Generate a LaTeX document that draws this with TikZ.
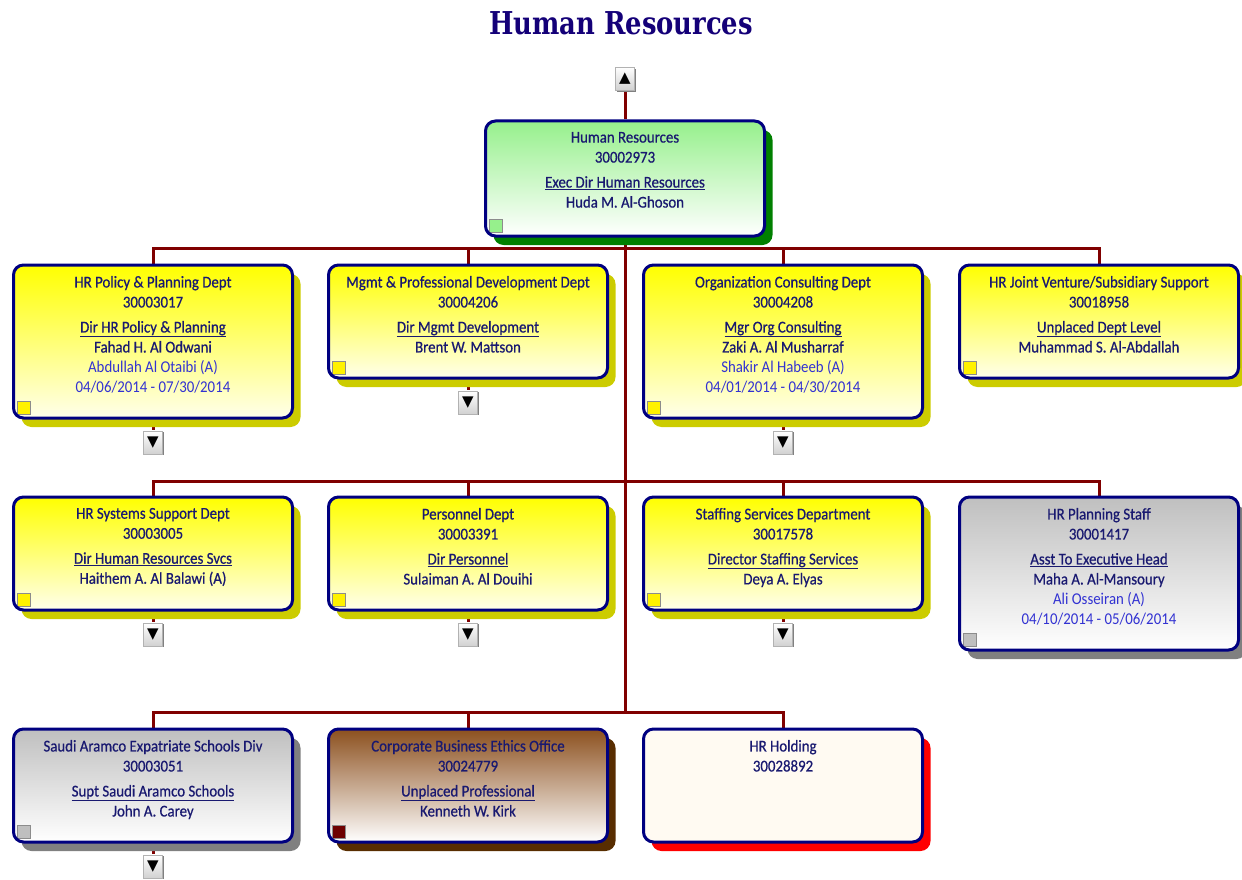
\documentclass[tikz,border=0pt]{standalone}
\usepackage{fontspec}
\setmainfont{Carlito}[FakeStretch=0.9, FakeBold=0.6]
\newfontfamily\actfont{Carlito}[FakeStretch=0.9]
\newfontfamily\titlefont{DejaVu Serif}[FakeStretch=0.82]
\newfontfamily\symfont{DejaVu Sans}
\usepackage{xcolor}
\usetikzlibrary{positioning,shadows,backgrounds}

\definecolor{navytext}{RGB}{25,25,112}
\definecolor{titleblue}{RGB}{20,0,120}
\definecolor{actblue}{RGB}{50,50,210}
\definecolor{boxblue}{RGB}{0,0,128}
\definecolor{linkred}{RGB}{128,0,0}
\definecolor{shyellow}{RGB}{204,204,0}
\definecolor{shgreen}{RGB}{0,128,0}
\definecolor{shgray}{RGB}{128,128,128}
\definecolor{shbrown}{RGB}{88,45,0}
\definecolor{lgreen}{RGB}{150,240,140}
\definecolor{brownfill}{RGB}{140,80,30}
\definecolor{sqbrown}{RGB}{110,0,0}
\definecolor{holdfill}{RGB}{255,250,242}

\tikzset{
  unit/.style={rectangle, rounded corners=10pt, draw=boxblue, line width=3pt,
    inner xsep=4.5pt, inner ysep=11pt, text=navytext, anchor=north,
    font=\fontsize{16.5}{20}\selectfont,
    execute at begin node={\begin{minipage}[t][#1][t]{270pt}\centering\rule{0pt}{10pt}},
    execute at end node={\end{minipage}}},
  unit/.default=91pt,
  corner/.style={path picture={\fill[#1, draw=black!45, line width=0.8pt, sharp corners]
    ([xshift=3.5pt,yshift=3.5pt]path picture bounding box.south west)
    rectangle ++(13pt,13pt);}},
  yellowunit/.style={top color=yellow, bottom color=yellow!8,
    drop shadow={shadow xshift=8pt, shadow yshift=-9pt, fill=shyellow, opacity=1},
    corner=yellow},
  greenunit/.style={top color=lgreen, bottom color=white,
    drop shadow={shadow xshift=8pt, shadow yshift=-9pt, fill=shgreen, opacity=1},
    corner=lgreen},
  grayunit/.style={top color=black!25, bottom color=white,
    drop shadow={shadow xshift=8pt, shadow yshift=-9pt, fill=shgray, opacity=1},
    corner=black!25},
  brownunit/.style={top color=brownfill, bottom color=white,
    drop shadow={shadow xshift=8pt, shadow yshift=-9pt, fill=shbrown, opacity=1},
    corner=sqbrown},
  holdunit/.style={fill=holdfill,
    drop shadow={shadow xshift=8pt, shadow yshift=-9pt, fill=red, opacity=1}},
  btn/.style={rectangle, inner sep=0pt, minimum width=19pt, minimum height=23pt,
    top color=white, bottom color=black!18, draw=black!30, line width=0.6pt,
    font=\symfont\fontsize{15}{15}\selectfont,
    drop shadow={shadow xshift=1.5pt, shadow yshift=-1.5pt, fill=black!50, opacity=1}},
  link/.style={draw=linkred, line width=3pt},
  elbow/.style={to path={|- ([yshift=#1]\tikztotarget.north) -| (\tikztotarget.north)}},
  elbow/.default=15.5pt
}

\begin{document}
\begin{tikzpicture}[x=1pt,y=-1pt]
\useasboundingbox (0,0) rectangle (1242,880);

\node[font=\titlefont\bfseries\fontsize{31.5}{32}\selectfont, text=titleblue] (title)
  at (621,23) {Human Resources};

% top unit
\node[unit=93pt, greenunit] (hr) at (625,119.5)
  {Human Resources\\30002973\\[5pt]\underline{Exec Dir Human Resources}\\Huda M. Al-Ghoson};
\node[btn, above=29pt of hr] (up) {▲};

% first row
\node[unit=131pt, yellowunit] (hrpol) at (153,263.5)
  {HR Policy \& Planning Dept\\30003017\\[5pt]\underline{Dir HR Policy \& Planning}\\Fahad H. Al Odwani\\
   {\actfont\color{actblue}Abdullah Al Otaibi (A)}\\{\actfont\color{actblue}04/06/2014 - 07/30/2014}};
\node[unit, yellowunit] (mpd) at (468,263.5)
  {Mgmt \& Professional Development Dept\\30004206\\[5pt]\underline{Dir Mgmt Development}\\Brent W. Mattson};
\node[unit=131pt, yellowunit] (ocd) at (783,263.5)
  {Organization Consulting Dept\\30004208\\[5pt]\underline{Mgr Org Consulting}\\Zaki A. Al Musharraf\\
   {\actfont\color{actblue}Shakir Al Habeeb (A)}\\{\actfont\color{actblue}04/01/2014 - 04/30/2014}};
\node[unit, yellowunit] (jvs) at (1099,263.5)
  {HR Joint Venture/Subsidiary Support\\30018958\\[5pt]\underline{Unplaced Dept Level}\\Muhammad S. Al-Abdallah};

% second row
\node[unit, yellowunit] (hrsys) at (153,495.5)
  {HR Systems Support Dept\\30003005\\[5pt]\underline{Dir Human Resources Svcs}\\Haithem A. Al Balawi (A)};
\node[unit, yellowunit] (pers) at (468,495.5)
  {Personnel Dept\\30003391\\[5pt]\underline{Dir Personnel}\\Sulaiman A. Al Douihi};
\node[unit, yellowunit] (staff) at (783,495.5)
  {Staffing Services Department\\30017578\\[5pt]\underline{Director Staffing Services}\\Deya A. Elyas};
\node[unit=131pt, grayunit] (plan) at (1099,495.5)
  {HR Planning Staff\\30001417\\[5pt]\underline{Asst To Executive Head}\\Maha A. Al-Mansoury\\
   {\actfont\color{actblue}Ali Osseiran (A)}\\{\actfont\color{actblue}04/10/2014 - 05/06/2014}};

% third row
\node[unit, grayunit] (expat) at (153,727.5)
  {Saudi Aramco Expatriate Schools Div\\30003051\\[5pt]\underline{Supt Saudi Aramco Schools}\\John A. Carey};
\node[unit, brownunit] (ethics) at (468,727.5)
  {Corporate Business Ethics Office\\30024779\\[5pt]\underline{Unplaced Professional}\\Kenneth W. Kirk};
\node[unit, holdunit] (hold) at (783,727.5) {HR Holding\\30028892};

% expand buttons
\node[btn, below=11pt of hrpol] (hrpolbtn) {▼};
\node[btn, below=11pt of mpd] (mpdbtn) {▼};
\node[btn, below=11pt of ocd] (ocdbtn) {▼};
\node[btn, below=11pt of hrsys] (hrsysbtn) {▼};
\node[btn, below=11pt of pers] (persbtn) {▼};
\node[btn, below=11pt of staff] (staffbtn) {▼};
\node[btn, below=11pt of expat] (expatbtn) {▼};

\begin{scope}[on background layer]
  \draw[link] (hr.north) -- (up.south);
  \foreach \child in {hrpol,mpd,ocd,jvs}
    \draw[link] (hr.south) to[elbow] (\child);
  \foreach \child in {hrsys,pers,staff,plan}
    \draw[link] (hr.south) to[elbow=14.5pt] (\child);
  \foreach \child in {expat,ethics,hold}
    \draw[link] (hr.south) to[elbow] (\child);
  \foreach \child in {hrpol,mpd,ocd,hrsys,pers,staff,expat}
    \draw[link] (\child.south) -- (\child btn.north);
\end{scope}
\end{tikzpicture}
\end{document}
